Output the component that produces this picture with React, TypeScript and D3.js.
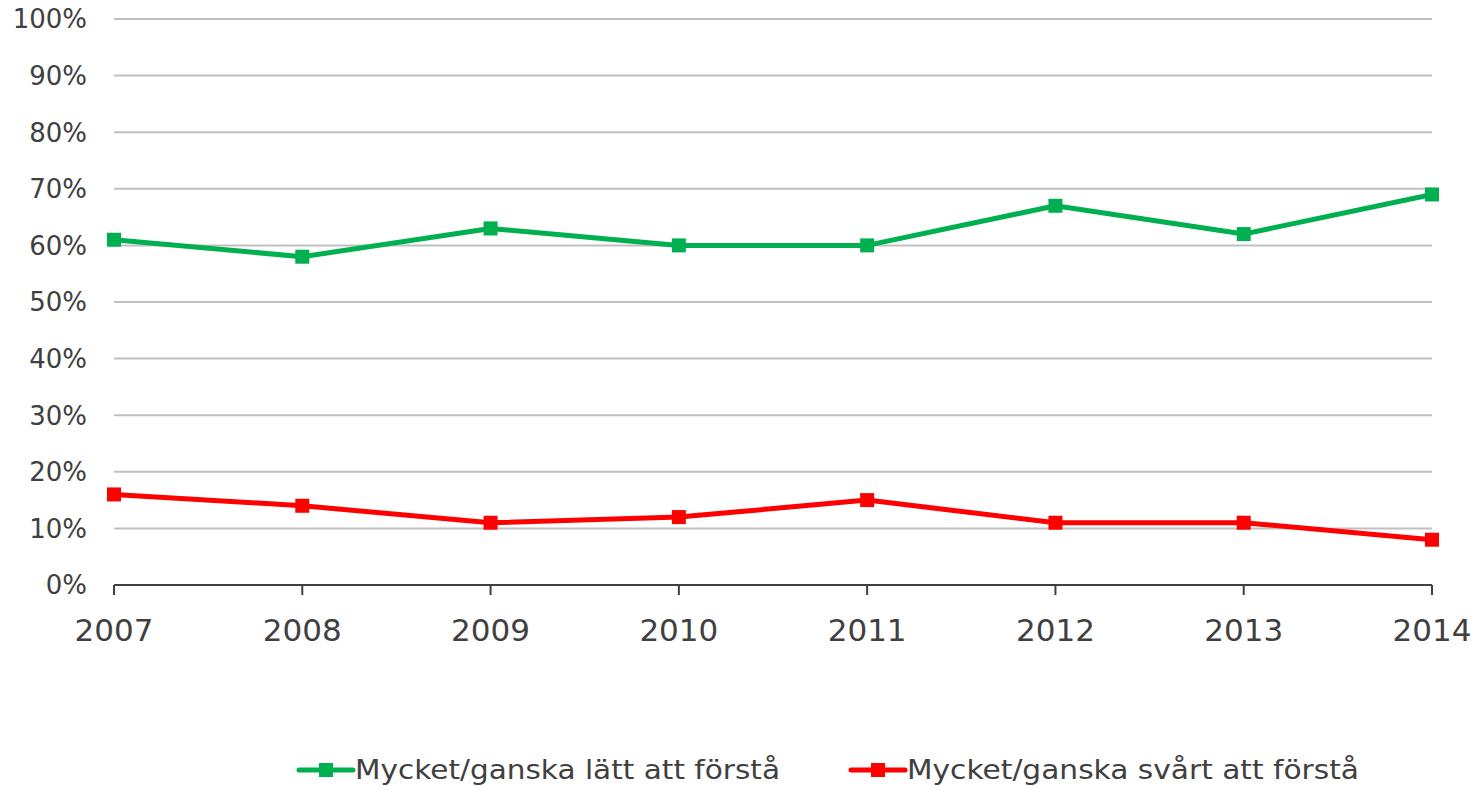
import React from "react";
import * as d3 from "d3";

const years = ["2007", "2008", "2009", "2010", "2011", "2012", "2013", "2014"];
const easyValues = [61, 58, 63, 60, 60, 67, 62, 69];
const hardValues = [16, 14, 11, 12, 15, 11, 11, 8];
const yTicks = [0, 10, 20, 30, 40, 50, 60, 70, 80, 90, 100];
const seriesNames = ["Mycket/ganska lätt att förstå", "Mycket/ganska svårt att förstå"];
const seriesColors = ["#00b050", "#ff0000"];

const W = 1478;
const H = 786;
const left = 114;
const right = 1432;
const top = 19;
const bottom = 585;

export default function App() {
  const x = d3.scalePoint<string>().domain(years).range([left, right]);
  const y = d3.scaleLinear().domain([0, 100]).range([bottom, top]);
  const line = d3
    .line<number>()
    .x((_, i) => x(years[i]) as number)
    .y((d) => y(d));
  const series = [easyValues, hardValues];
  const legendX = [299, 851];
  const textLen = [425, 452];
  const font = "'DejaVu Sans', Verdana, sans-serif";

  return (
    <svg
      width={W}
      height={H}
      style={{ position: "absolute", left: 0, top: 0, background: "#fff" }}
    >
      {yTicks.map((t) => (
        <g key={t}>
          {t > 0 && (
            <line x1={left} x2={right} y1={y(t)} y2={y(t)} stroke="#c0c0c0" strokeWidth={2} />
          )}
          <text
            x={87}
            y={y(t)}
            dy="0.36em"
            textAnchor="end"
            fontFamily={font}
            fontSize={26}
            fill="#404040"
          >
            {t}%
          </text>
        </g>
      ))}
      <line x1={left} x2={right} y1={bottom} y2={bottom} stroke="#404040" strokeWidth={2} />
      {years.map((yr) => (
        <g key={yr}>
          <line
            x1={x(yr)}
            x2={x(yr)}
            y1={bottom}
            y2={bottom + 10}
            stroke="#404040"
            strokeWidth={2}
          />
          <text
            x={x(yr)}
            y={641}
            textAnchor="middle"
            fontFamily={font}
            fontSize={31}
            fill="#404040"
          >
            {yr}
          </text>
        </g>
      ))}
      {series.map((vals, si) => (
        <g key={si}>
          <path
            d={line(vals) || ""}
            fill="none"
            stroke={seriesColors[si]}
            strokeWidth={5}
            strokeLinejoin="round"
          />
          {vals.map((v, i) => (
            <rect
              key={i}
              x={(x(years[i]) as number) - 7}
              y={y(v) - 7}
              width={14}
              height={14}
              fill={seriesColors[si]}
            />
          ))}
        </g>
      ))}
      {seriesNames.map((name, si) => (
        <g key={name}>
          <line
            x1={legendX[si]}
            x2={legendX[si] + 54}
            y1={770}
            y2={770}
            stroke={seriesColors[si]}
            strokeWidth={5}
            strokeLinecap="round"
          />
          <rect x={legendX[si] + 20} y={763} width={14} height={14} fill={seriesColors[si]} />
          <text
            x={legendX[si] + 56}
            y={779}
            fontFamily={font}
            fontSize={27}
            fill="#404040"
            textLength={textLen[si]}
            lengthAdjust="spacingAndGlyphs"
          >
            {name}
          </text>
        </g>
      ))}
    </svg>
  );
}
